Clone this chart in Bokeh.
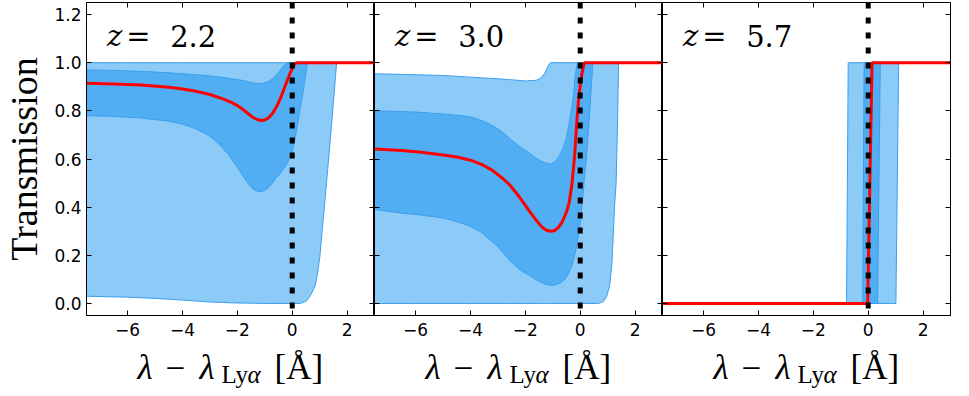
from bokeh.plotting import figure
from bokeh.layouts import row, column
from bokeh.models import (LinearAxis, FixedTicker, CustomJSTickFormatter, Span, Label)
from bokeh.embed import file_html
from bokeh.resources import INLINE

# ---------------- data ----------------
redshifts = ["2.2", "3.0", "5.7"]
x_ticks = [-6, -4, -2, 0, 2]
y_ticks = [0.0, 0.2, 0.4, 0.6, 0.8, 1.0, 1.2]

# panel z = 2.2
outer1_x = [-7.5, -6.0, -5.0, -4.0, -3.0, -2.0, -1.0, 0.0, 0.3, 0.52, 0.7, 0.83, 0.92, 1.01, 1.13, 1.25, 1.44, 1.62]
outer1_hi = [1.0, 1.0, 1.0, 1.0, 1.0, 1.0, 1.0, 1.0, 1.0, 1.0, 1.0, 1.0, 1.0, 1.0, 1.0, 1.0, 1.0, 1.0]
outer1_lo = [0.030, 0.026, 0.021, 0.014, 0.006, 0.002, 0.0, 0.0, 0.0, 0.01, 0.04, 0.072, 0.12, 0.197, 0.35, 0.5, 0.75, 1.0]
inner1_x = [-7.5, -6.5, -5.5, -4.5, -4.0, -3.5, -3.0, -2.6, -2.3, -2.0, -1.8, -1.6, -1.45, -1.3, -1.18, -1.05,
            -0.9, -0.75, -0.63, -0.45, -0.3, -0.15, 0.0, 0.1, 0.22, 0.32, 0.4, 0.48, 0.55]
inner1_hi = [0.97, 0.968, 0.964, 0.958, 0.954, 0.95, 0.945, 0.94, 0.935, 0.93, 0.926, 0.921, 0.917, 0.914, 0.913, 0.915,
             0.92, 0.93, 0.943, 0.965, 0.99, 1.0, 1.0, 1.0, 1.0, 1.0, 1.0, 1.0, 1.0]
inner1_lo = [0.78, 0.777, 0.77, 0.757, 0.745, 0.725, 0.695, 0.655, 0.615, 0.565, 0.53, 0.497, 0.478, 0.467, 0.464, 0.467,
             0.478, 0.496, 0.515, 0.54, 0.56, 0.59, 0.63, 0.68, 0.76, 0.83, 0.88, 0.94, 1.0]
median1_x = [-7.5, -6.5, -5.5, -4.5, -4.0, -3.5, -3.0, -2.5, -2.2, -2.0, -1.8, -1.6, -1.45, -1.3, -1.15, -1.0,
             -0.85, -0.7, -0.55, -0.4, -0.25, -0.1, 0.0, 0.08, 0.15, 3.0]
median1_y = [0.915, 0.912, 0.907, 0.898, 0.891, 0.881, 0.868, 0.849, 0.834, 0.822, 0.806, 0.788, 0.774, 0.765, 0.760, 0.762,
             0.772, 0.792, 0.822, 0.86, 0.905, 0.95, 0.975, 0.992, 1.0, 1.0]

# panel z = 3.0
outer2_x = [-7.5, -6.0, -5.0, -4.0, -3.0, -2.5, -2.0, -1.6, -1.45, -1.3, -1.2, -1.12, -1.09, 0.0, 0.6, 0.67, 0.85,
            0.97, 1.08, 1.16, 1.25, 1.31, 1.36, 1.40]
outer2_hi = [0.954, 0.95, 0.947, 0.94, 0.933, 0.929, 0.924, 0.927, 0.935, 0.955, 0.98, 0.995, 1.0, 1.0, 1.0, 1.0, 1.0,
             1.0, 1.0, 1.0, 1.0, 1.0, 1.0, 1.0]
outer2_lo = [0.0, 0.0, 0.0, 0.0, 0.0, 0.0, 0.0, 0.0, 0.0, 0.0, 0.0, 0.0, 0.0, 0.0, 0.0, 0.0, 0.008,
             0.03, 0.08, 0.17, 0.4, 0.5, 0.75, 1.0]
inner2_x = [-7.5, -6.5, -6.0, -5.0, -4.5, -4.0, -3.6, -3.3, -3.0, -2.8, -2.55, -2.2, -1.82, -1.6, -1.4, -1.2,
            -1.05, -0.9, -0.75, -0.61, -0.5, -0.4, -0.3, -0.24, -0.18, -0.1, 0.0, 0.08, 0.15, 0.22, 0.35, 0.46]
inner2_hi = [0.80, 0.797, 0.795, 0.787, 0.782, 0.775, 0.76, 0.745, 0.725, 0.708, 0.683, 0.652, 0.621, 0.603, 0.59, 0.581,
             0.579, 0.59, 0.615, 0.649, 0.69, 0.75, 0.82, 0.87, 0.95, 1.0, 1.0, 1.0, 1.0, 1.0, 1.0, 1.0]
inner2_lo = [0.39, 0.375, 0.37, 0.355, 0.34, 0.32, 0.295, 0.265, 0.235, 0.21, 0.176, 0.14, 0.114, 0.098, 0.086, 0.078,
             0.075, 0.077, 0.084, 0.095, 0.11, 0.13, 0.158, 0.183, 0.21, 0.26, 0.336, 0.42, 0.517, 0.60, 0.80, 1.0]
median2_x = [-7.5, -6.5, -5.8, -5.0, -4.5, -4.0, -3.6, -3.2, -2.8, -2.55, -2.2, -1.82, -1.6, -1.4, -1.25, -1.1,
             -0.95, -0.8, -0.65, -0.5, -0.4, -0.3, -0.2, -0.12, -0.05, 0.06, 0.15, 3.0]
median2_y = [0.642, 0.635, 0.628, 0.617, 0.608, 0.595, 0.578, 0.553, 0.517, 0.49, 0.44, 0.378, 0.345, 0.318, 0.305, 0.30,
             0.302, 0.315, 0.34, 0.38, 0.42, 0.496, 0.62, 0.76, 0.86, 0.954, 1.0, 1.0]

# panel z = 5.7
outer3_x = [-0.79, -0.73, 1.01, 1.11]
outer3_hi = [0.0, 1.0, 1.0, 1.0]
outer3_lo = [0.0, 0.0, 0.0, 1.0]
inner3_x = [-0.2, -0.15, 0.34, 0.44]
inner3_hi = [0.0, 1.0, 1.0, 1.0]
inner3_lo = [0.0, 0.0, 0.0, 1.0]
median3_x = [-7.5, -0.02, 0.14, 3.0]
median3_y = [0.0, 0.0, 1.0, 1.0]

panels = [
    (outer1_x, outer1_lo, outer1_hi, inner1_x, inner1_lo, inner1_hi, median1_x, median1_y),
    (outer2_x, outer2_lo, outer2_hi, inner2_x, inner2_lo, inner2_hi, median2_x, median2_y),
    (outer3_x, outer3_lo, outer3_hi, inner3_x, inner3_lo, inner3_hi, median3_x, median3_y),
]

# ---------------- style ----------------
LIGHT = "#8ccaf7"
DARK = "#52aef3"
EDGE = "#3b9fee"
SERIF = "Liberation Serif"
TICKFONT = "DejaVu Sans"

FRAME_W = 288
FRAME_H = 313
LEFT = 86
TOP = 2
BOTTOM = 30
LABEL_H = 46

xfmt = CustomJSTickFormatter(code="return tick < 0 ? '\u2212' + (-tick) : String(tick);")
yfmt = CustomJSTickFormatter(code="return tick.toFixed(1);")


def style_axis(ax, ticks, show_labels, fmt=None):
    ax.ticker = FixedTicker(ticks=ticks)
    ax.axis_label = None
    ax.axis_label_standoff = 0
    ax.major_tick_in = 5
    ax.major_tick_out = 0
    ax.minor_tick_in = 0
    ax.minor_tick_out = 0
    ax.axis_line_color = "black"
    ax.axis_line_width = 1
    ax.major_tick_line_color = "black"
    ax.major_tick_line_width = 1
    if show_labels:
        ax.formatter = fmt
        ax.major_label_text_font = TICKFONT
        ax.major_label_text_font_size = "17px"
        ax.major_label_text_color = "black"
    else:
        ax.formatter = CustomJSTickFormatter(code="return '';")
        ax.major_label_standoff = 0
        ax.major_label_text_font_size = "0px"


figs = []
for i, (ox, olo, ohi, ix, ilo, ihi, mx, my) in enumerate(panels):
    first = i == 0
    last = i == 2
    p = figure(frame_width=FRAME_W, frame_height=FRAME_H,
               x_range=(-7.5, 3.0), y_range=(-0.05, 1.25),
               output_backend="svg", toolbar_location=None,
               min_border=0, min_border_left=LEFT if first else 0,
               min_border_right=10 if last else 0,
               min_border_top=TOP, min_border_bottom=BOTTOM,
               background_fill_color="white", border_fill_color="white",
               outline_line_color="black", outline_line_width=1)
    p.xgrid.visible = False
    p.ygrid.visible = False

    style_axis(p.xaxis[0], x_ticks, True, xfmt)
    p.xaxis[0].major_label_standoff = 7
    style_axis(p.yaxis[0], y_ticks, first, yfmt)
    if first:
        p.yaxis[0].major_label_standoff = 5
        p.yaxis[0].axis_label = "Transmission"
        p.yaxis[0].axis_label_text_font = SERIF
        p.yaxis[0].axis_label_text_font_size = "38px"
        p.yaxis[0].axis_label_text_font_style = "normal"
        p.yaxis[0].axis_label_text_color = "black"
        p.yaxis[0].axis_label_standoff = 6
    top_ax = LinearAxis()
    style_axis(top_ax, x_ticks, False)
    p.add_layout(top_ax, "above")
    right_ax = LinearAxis()
    style_axis(right_ax, y_ticks, False)
    p.add_layout(right_ax, "right")

    # bands
    p.patch(ox + ox[::-1], ohi + olo[::-1], fill_color=LIGHT, line_color=EDGE, line_width=1)
    p.patch(ix + ix[::-1], ihi + ilo[::-1], fill_color=DARK, line_color=EDGE, line_width=1)
    # median
    p.line(mx, my, line_color="#ff0000", line_width=3)
    # Ly-alpha line
    p.add_layout(Span(location=0, dimension="height", line_color="black",
                      line_width=5, line_dash="6 9"))

    # redshift annotation
    ylab = 1.11
    p.add_layout(Label(x=-6.75, y=ylab, text="z", text_font="DejaVu Serif",
                       text_font_style="italic", text_font_size="29px",
                       text_baseline="alphabetic", text_color="black"))
    p.add_layout(Label(x=-6.05, y=ylab, text="=", text_font="DejaVu Serif",
                       text_font_size="29px", text_baseline="alphabetic", text_color="black"))
    p.add_layout(Label(x=-4.45, y=ylab, text=redshifts[i], text_font="DejaVu Serif",
                       text_font_size="29px", text_baseline="alphabetic", text_color="black"))
    figs.append(p)

# x-axis titles: lambda - lambda_{Ly alpha} [A], one below each panel
total_w = LEFT + 3 * FRAME_W + 10
lab = figure(width=total_w, height=LABEL_H, x_range=(0, total_w), y_range=(0, LABEL_H),
             output_backend="svg", toolbar_location=None, min_border=0,
             x_axis_location=None, y_axis_location=None,
             outline_line_color=None, background_fill_color="white", border_fill_color="white")
lab.xgrid.visible = False
lab.ygrid.visible = False
pieces = [("λ", 51, 24, "35px", "italic"),
          ("−", 79, 24, "35px", "normal"),
          ("λ", 113, 24, "35px", "italic"),
          ("Ly", 135, 17, "25px", "normal"),
          ("α", 161, 17, "25px", "italic"),
          ("[Å]", 188, 24, "35px", "normal")]
for k in range(3):
    left = LEFT + k * FRAME_W
    for txt, dx, ypos, fs, st in pieces:
        lab.add_layout(Label(x=left + dx, y=ypos, text=txt,
                             text_font=SERIF, text_font_size=fs, text_font_style=st,
                             text_baseline="alphabetic", text_color="black"))

layout = column(row(*figs, spacing=0), lab, spacing=0)
open("out.html", "w").write(file_html(layout, INLINE))
